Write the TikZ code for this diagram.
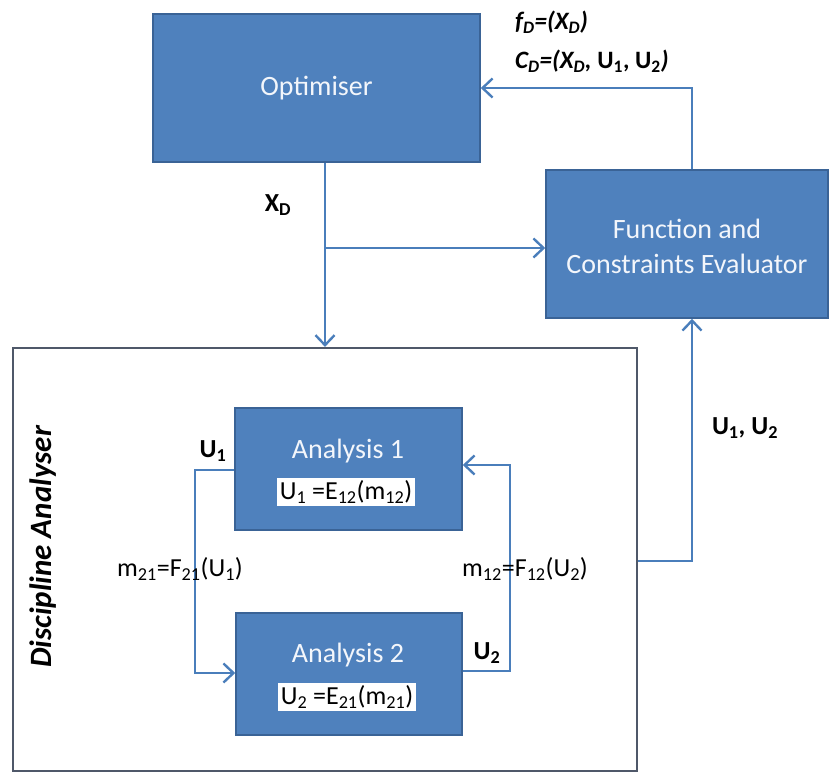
\documentclass[tikz,border=0pt]{standalone}
\usepackage{fontspec}
\setmainfont{Carlito}
\usetikzlibrary{arrows.meta}
\definecolor{boxblue}{HTML}{4F81BD}
\definecolor{boxedge}{HTML}{3A6396}
\definecolor{linkblue}{HTML}{4A7EBB}
\definecolor{outeredge}{HTML}{4F5869}
\definecolor{boxtext}{HTML}{F3F6FB}
\tikzset{
  bluebox/.style={draw=boxedge, line width=1.6pt, fill=boxblue, rectangle, inner sep=0pt},
  boxlabel/.style={text=boxtext, font=\fontsize{28}{35}\selectfont, align=center, inner sep=0pt},
  eqlabel/.style={fill=white, text=black, font=\fontsize{26}{30}\selectfont, inner sep=3pt},
  plainlabel/.style={text=black, font=\fontsize{26}{30}\selectfont, inner sep=0pt},
  boldlabel/.style={text=black, font=\fontsize{26}{30}\selectfont\bfseries, inner sep=0pt},
  conn/.style={draw=linkblue, line width=2.6pt, -{Straight Barb[length=10pt,width=19pt,line width=2.4pt]}},
}
\begin{document}
\begin{tikzpicture}[x=1pt,y=-1pt]
\useasboundingbox (0,0) rectangle (829,773);
% outer discipline analyser box
\node[draw=outeredge, line width=2.2pt, rectangle, minimum width=624pt, minimum height=423pt, inner sep=0pt] (outer) at (325,559.5) {};
\node[boldlabel, font=\fontsize{31}{34}\selectfont\bfseries\itshape, rotate=90] (dalabel) at (43,547) {Discipline Analyser};
% main boxes
\node[bluebox, minimum width=327pt, minimum height=148pt] (opt) at (316.5,88) {};
\node[boxlabel] (optlabel) at (opt.center) {Optimiser};
\node[bluebox, minimum width=282pt, minimum height=148pt] (eval) at (687,244) {};
\node[boxlabel] (evallabel) at (687,246) {Function and\\Constraints Evaluator};
\node[bluebox, minimum width=227pt, minimum height=122pt] (a1) at (348.5,469) {};
\node[boxlabel] (a1label) at (348,451) {Analysis 1};
\node[eqlabel] (a1eq) at (346,492) {U\textsubscript{1} =E\textsubscript{12}(m\textsubscript{12})};
\node[bluebox, minimum width=226pt, minimum height=122pt] (a2) at (349,674) {};
\node[boxlabel] (a2label) at (348,655) {Analysis 2};
\node[eqlabel] (a2eq) at (347,697) {U\textsubscript{2} =E\textsubscript{21}(m\textsubscript{21})};
% coordinates
\coordinate (xb) at (325,248);
\coordinate (fx) at (692,0);
\coordinate (uy) at (0,561);
\coordinate (u2y) at (0,671);
\coordinate (fby) at (0,465);
\coordinate (u1y) at (0,470);
\coordinate (u1x) at (195,0);
\coordinate (u2x) at (510,0);
\coordinate (a2in) at (0,673);
% connectors
\draw[conn] (opt.south -| xb) -- (outer.north -| xb);
\draw[conn] (xb) -- (eval.west |- xb);
\draw[conn] (eval.north -| fx) |- (opt.east);
\draw[conn] (outer.east |- uy) -| (eval.south -| fx);
\draw[conn] (a2.east |- u2y) -| (u2x |- fby) -- (a1.east |- fby);
\draw[conn] (a1.west |- u1y) -| (u1x |- a2in) -- (a2.west |- a2in);
% labels
\node[boldlabel, anchor=west, font=\fontsize{25}{30}\selectfont\bfseries\itshape] (fd) at (515,22) {f\textsubscript{D}=(X\textsubscript{D})};
\node[boldlabel, anchor=west, font=\fontsize{25}{30}\selectfont\bfseries\itshape] (cd) at (515,61) {C\textsubscript{D}=(X\textsubscript{D}, {\upshape U\textsubscript{1}, U\textsubscript{2}})};
\node[boldlabel] (xdl) at (278,205) {X\textsubscript{D}};
\node[boldlabel] (u1l) at (213,451) {U\textsubscript{1}};
\node[boldlabel] (u2l) at (487,653) {U\textsubscript{2}};
\node[boldlabel] (u12l) at (745,428) {U\textsubscript{1}, U\textsubscript{2}};
\node[plainlabel] (m21) at (180,569) {m\textsubscript{21}=F\textsubscript{21}(U\textsubscript{1})};
\node[plainlabel] (m12) at (525,569) {m\textsubscript{12}=F\textsubscript{12}(U\textsubscript{2})};
\end{tikzpicture}
\end{document}
